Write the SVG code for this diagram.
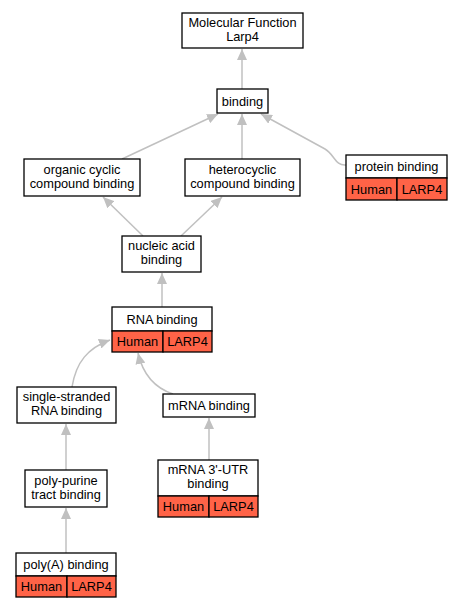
<svg xmlns="http://www.w3.org/2000/svg" width="461" height="608" viewBox="0 0 461 608">
<defs>
<style>
.box{fill:#fff;stroke:#000;stroke-width:1.3}
.red{fill:#ff6347;stroke:#000;stroke-width:1.3}
.t{font-family:"Liberation Sans",Arial,sans-serif;font-size:12.8px;fill:#000;text-anchor:middle}
.e{fill:none;stroke:#c0c0c0;stroke-width:1.5}
</style>
<marker id="ah" markerWidth="11" markerHeight="10" refX="11" refY="5" orient="auto" markerUnits="userSpaceOnUse" viewBox="0 0 11 10">
<path d="M0,0 L11,5 L0,10 Z" fill="#c0c0c0"/>
</marker>
</defs>
<rect width="461" height="608" fill="#fff"/>
<g id="edges">
<path class="e" d="M242,89 L242,49" marker-end="url(#ah)"/>
<path class="e" d="M122,159 L218,114" marker-end="url(#ah)"/>
<path class="e" d="M242,159 L242,114" marker-end="url(#ah)"/>
<path class="e" d="M346,165 C335,166 335,155 325,149 L261,114" marker-end="url(#ah)"/>
<path class="e" d="M143,236 L103,197" marker-end="url(#ah)"/>
<path class="e" d="M181,236 L222,197" marker-end="url(#ah)"/>
<path class="e" d="M162,307 L162,273" marker-end="url(#ah)"/>
<path class="e" d="M72,387 C76,362 88,348 110,340" marker-end="url(#ah)"/>
<path class="e" d="M173,394 C155,388 143,375 138,353" marker-end="url(#ah)"/>
<path class="e" d="M66,470 L66,424" marker-end="url(#ah)"/>
<path class="e" d="M66,553 L66,508" marker-end="url(#ah)"/>
<path class="e" d="M209,460 L209,418" marker-end="url(#ah)"/>
</g>
<g id="mf">
<rect class="box" x="182" y="13" width="121" height="35"/>
<text class="t" x="242.5" y="27">Molecular Function</text>
<text class="t" x="242.5" y="41">Larp4</text>
</g>
<g id="binding">
<rect class="box" x="217" y="89" width="51" height="24"/>
<text class="t" x="242.5" y="105.5">binding</text>
</g>
<g id="organic">
<rect class="box" x="24" y="159" width="116" height="37"/>
<text class="t" x="82" y="174">organic cyclic</text>
<text class="t" x="82" y="188">compound binding</text>
</g>
<g id="hetero">
<rect class="box" x="185" y="159" width="115" height="37"/>
<text class="t" x="242.5" y="174">heterocyclic</text>
<text class="t" x="242.5" y="188">compound binding</text>
</g>
<g id="protein">
<rect class="box" x="346" y="155" width="101" height="23"/>
<text class="t" x="396.5" y="170.5">protein binding</text>
<rect class="red" x="346" y="178" width="51" height="22"/>
<rect class="red" x="397" y="178" width="50" height="22"/>
<text class="t" x="371.5" y="193.5">Human</text>
<text class="t" x="422" y="193.5">LARP4</text>
</g>
<g id="nucleic">
<rect class="box" x="122" y="236" width="79" height="36"/>
<text class="t" x="161.5" y="250">nucleic acid</text>
<text class="t" x="161.5" y="264">binding</text>
</g>
<g id="rna">
<rect class="box" x="112" y="307" width="100" height="24"/>
<text class="t" x="162" y="323.5">RNA binding</text>
<rect class="red" x="112" y="331" width="51" height="21"/>
<rect class="red" x="163" y="331" width="49" height="21"/>
<text class="t" x="137.5" y="345.5">Human</text>
<text class="t" x="187.5" y="345.5">LARP4</text>
</g>
<g id="ssrna">
<rect class="box" x="17" y="387" width="99" height="36"/>
<text class="t" x="66.5" y="401">single-stranded</text>
<text class="t" x="66.5" y="415">RNA binding</text>
</g>
<g id="mrna">
<rect class="box" x="163" y="394" width="92" height="23"/>
<text class="t" x="209" y="410">mRNA binding</text>
</g>
<g id="polypurine">
<rect class="box" x="25" y="470" width="82" height="37"/>
<text class="t" x="66" y="485">poly-purine</text>
<text class="t" x="66" y="499">tract binding</text>
</g>
<g id="utr">
<rect class="box" x="158" y="460" width="100" height="36"/>
<text class="t" x="208" y="474">mRNA 3'-UTR</text>
<text class="t" x="208" y="488">binding</text>
<rect class="red" x="158" y="496" width="51" height="21"/>
<rect class="red" x="209" y="496" width="49" height="21"/>
<text class="t" x="183.5" y="510.5">Human</text>
<text class="t" x="233.5" y="510.5">LARP4</text>
</g>
<g id="polya">
<rect class="box" x="16" y="553" width="100" height="23"/>
<text class="t" x="66" y="569">poly(A) binding</text>
<rect class="red" x="16" y="576" width="51" height="21"/>
<rect class="red" x="67" y="576" width="49" height="21"/>
<text class="t" x="41.5" y="590.5">Human</text>
<text class="t" x="91.5" y="590.5">LARP4</text>
</g>
</svg>
